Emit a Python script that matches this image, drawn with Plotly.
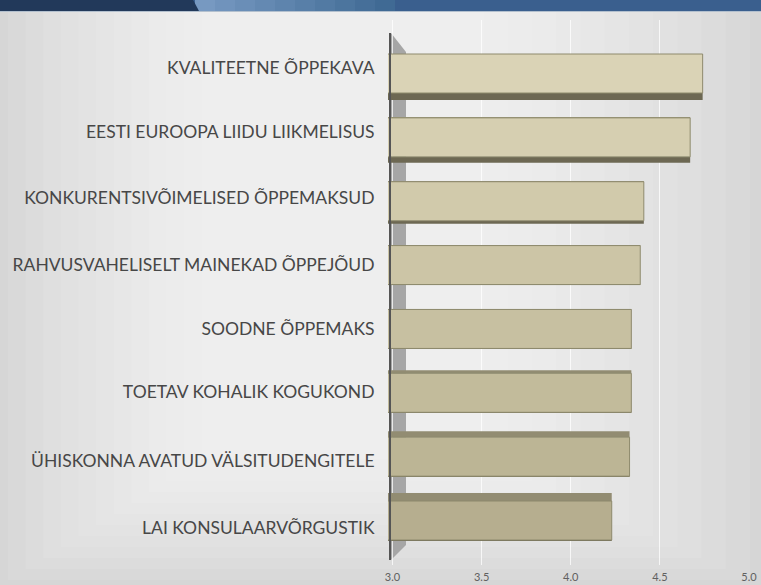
import plotly.graph_objects as go

categories = [
    "KVALITEETNE ÕPPEKAVA",
    "EESTI EUROOPA LIIDU LIIKMELISUS",
    "KONKURENTSIVÕIMELISED ÕPPEMAKSUD",
    "RAHVUSVAHELISELT MAINEKAD ÕPPEJÕUD",
    "SOODNE ÕPPEMAKS",
    "TOETAV KOHALIK KOGUKOND",
    "ÜHISKONNA AVATUD VÄLSITUDENGITELE",
    "LAI KONSULAARVÕRGUSTIK",
]
values = [4.74, 4.67, 4.41, 4.39, 4.34, 4.34, 4.33, 4.23]
x_ticks = [3.0, 3.5, 4.0, 4.5, 5.0]
x_ticktext = ["3.0", "3.5", "4.0", "4.5", "5.0"]

W, H = 761, 585
L, R, T, B = 388, 12, 20, 20
SP = 63.86  # px per category step
pos = list(range(len(categories)))

# perspective styling (pixels): visible bottom face / top face thickness, label shift
bottom_px = [7, 6, 3, 0, 0, 0, 0, 0]
top_px = [0, 0, 0, 0, 0, 3, 6, 8]
label_shift_px = [-5.5, -5.5, -3, -0.5, -0.5, -0.5, 4, 7.5]
face_px = 39

face_colors = ["#dad3b6", "#d6cfb1", "#d1caab", "#ccc5a6", "#c7c0a1", "#c2bb9b", "#bcb595", "#b6ae8f"]

def px(x):
    return (x - L) / (W - L - R)

def py(y):
    return (H - B - y) / (H - T - B)

fig = go.Figure()
# bottom faces (visible on upper bars)
fig.add_trace(go.Bar(
    y=[p + (face_px / 2 + t / 2) / SP for p, t in zip(pos, bottom_px)], x=values,
    orientation="h", width=[t / SP for t in bottom_px],
    marker=dict(color="#6d6853", line=dict(width=0)), hoverinfo="skip", showlegend=False,
))
# top faces (visible on lower bars)
fig.add_trace(go.Bar(
    y=[p - (face_px / 2 + t / 2) / SP for p, t in zip(pos, top_px)], x=values,
    orientation="h", width=[t / SP for t in top_px],
    marker=dict(color="#928c72", line=dict(width=0)), hoverinfo="skip", showlegend=False,
))
# front faces
fig.add_trace(go.Bar(
    y=pos, x=values, orientation="h", width=face_px / SP,
    marker=dict(color=face_colors, line=dict(color="#8e8a6d", width=1)),
    showlegend=False,
))

shapes = []
# background gradient (light centre, darker edges)
n = 12
for i in range(n):
    m = 10 + i * 22
    shapes.append(dict(type="rect", xref="paper", yref="paper", layer="below",
                       x0=px(m * 0.8), x1=px(W - m * 1.1), y0=py(H - m * 0.5), y1=py(11),
                       fillcolor="white", opacity=0.09, line=dict(width=0)))
# top banner
shapes.append(dict(type="rect", xref="paper", yref="paper", layer="below",
                   x0=px(-2), x1=px(W + 2), y0=py(11), y1=py(-2),
                   fillcolor="#3a5f8e", line=dict(width=0)))
grad = ["#7799c1", "#7093bc", "#6a8eb7", "#6489b2", "#5e84ad", "#587fa8", "#527aa3", "#4c759e", "#466f99", "#406a94"]
for i, c in enumerate(grad):
    shapes.append(dict(type="rect", xref="paper", yref="paper", layer="below",
                       x0=px(195 + i * 20), x1=px(195 + (i + 1) * 20), y0=py(11), y1=py(-2),
                       fillcolor=c, line=dict(width=0)))
shapes.append(dict(type="path", xref="paper", yref="paper", layer="below",
                   path=f"M {px(-2)},{py(-2)} L {px(192)},{py(-2)} L {px(199)},{py(11)} L {px(-2)},{py(11)} Z",
                   fillcolor="#22395a", line=dict(width=0)))
shapes.append(dict(type="rect", xref="paper", yref="paper", layer="below",
                   x0=px(-2), x1=px(W + 2), y0=py(12), y1=py(11),
                   fillcolor="#b3c0ce", line=dict(width=0)))
# left wall of 3D plot
shapes.append(dict(type="path", xref="paper", yref="paper", layer="below",
                   path=f"M {px(391)},{py(33)} L {px(406)},{py(52)} L {px(406)},{py(545)} L {px(391)},{py(560)} Z",
                   fillcolor="#a6a6a6", line=dict(width=0)))
shapes.append(dict(type="line", xref="paper", yref="paper", layer="above",
                   x0=px(390), x1=px(390), y0=py(33), y1=py(560),
                   line=dict(color="#555555", width=2)))

y_top = (T - 73.5) / SP
y_bot = (H - B - 73.5) / SP

fig.update_layout(
    width=W, height=H,
    margin=dict(l=L, r=R, t=T, b=B, pad=0),
    paper_bgcolor="#d6d6d6",
    plot_bgcolor="rgba(0,0,0,0)",
    barmode="overlay",
    shapes=shapes,
    font=dict(family="Lato, Arial, sans-serif"),
    xaxis=dict(
        range=[2.975, 5.0], tickvals=x_ticks, ticktext=x_ticktext, automargin=False,
        showgrid=True, gridcolor="rgba(255,255,255,0.75)", gridwidth=1,
        zeroline=False, showline=False, ticklabelstandoff=4,
        tickfont=dict(size=11, color="#606060"),
    ),
    yaxis=dict(
        range=[y_bot, y_top], automargin=False,
        tickvals=[p + s / SP for p, s in zip(pos, label_shift_px)], ticktext=categories,
        showgrid=False, zeroline=False, showline=False,
        ticks="outside", ticklen=9, tickcolor="rgba(0,0,0,0)",
        tickfont=dict(size=17.5, color="#474747"),
    ),
)

fig.write_html("out.html", config={"displayModeBar": False},
               post_script="document.body.style.margin='0px';")
